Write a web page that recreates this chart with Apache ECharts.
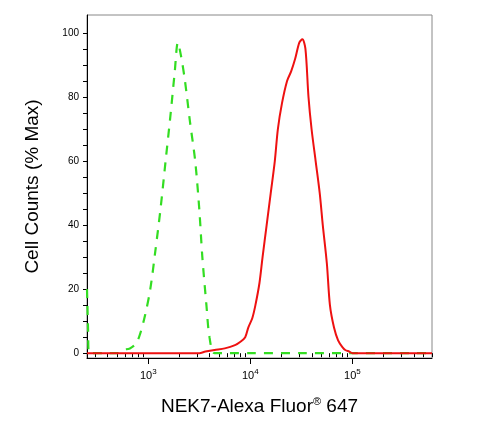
<!DOCTYPE html>
<html><head><meta charset="utf-8">
<script src="https://cdn.jsdelivr.net/npm/echarts@6/dist/echarts.min.js"></script>
<style>html,body{margin:0;padding:0;background:#fff}#c{width:483px;height:426px}</style>
</head><body><div id="c"></div>
<script>
// x values are log10(fluorescence)
const isotypeX = [2.40,2.41,2.42,2.5,2.6,2.7,2.75,2.82,2.88,2.92,2.97,3.02,3.07,3.12,3.17,3.22,3.26,3.29,3.32,3.36,3.41,3.46,3.50,3.53,3.57,3.60,3.65,3.8,4.0,4.5,5.0,5.5,5.78];
const isotypeY = [20,8,0,0,0,0,1,1.5,3,6,12,20,32,45,60,75,88,97,93,85,72,60,45,30,15,5,0,0,0,0,0,0,0];
const nek7X = [2.40,3.0,3.5,3.56,3.65,3.75,3.85,3.90,3.95,3.98,4.02,4.05,4.09,4.12,4.16,4.20,4.24,4.27,4.31,4.36,4.40,4.44,4.48,4.51,4.54,4.57,4.60,4.64,4.68,4.71,4.75,4.78,4.82,4.86,4.90,4.93,4.97,5.0,5.3,5.78];
const nek7Y = [0,0,0,0.5,1,1.5,2.5,3.5,5,8,11,15,22,30,40,50,60,70,78,85,88,92,97,98,95,80,70,60,50,40,28,15,8,4,2,1,0.5,0,0,0];
const majorTicks = [3,4,5];
const minorTicks = [];
[2,3].forEach(e=>{for(let m=2;m<=9;m++){const v=e+Math.log10(m); if(v>=2.40) minorTicks.push(v);}});
[4,5].forEach(e=>{for(let m=2;m<=9;m++){const v=e+Math.log10(m); if(v<=5.78) minorTicks.push(v);}});
const yTicks = [0,20,40,60,80,100];

const chart = echarts.init(document.getElementById('c'));
const zip=(a,b)=>a.map((v,i)=>[v,b[i]]);
chart.setOption({
  animation:false,
  grid:{left:87,right:51,top:15,bottom:68,show:true,borderColor:'#888',borderWidth:1},
  xAxis:[{
    type:'value',min:2.40,max:5.78,
    name:'NEK7-Alexa Fluor{s|®} 647',nameLocation:'middle',nameGap:38,
    nameTextStyle:{fontFamily:'Liberation Sans',fontSize:19,color:'#000',rich:{s:{fontSize:11,verticalAlign:'top',padding:[0,0,10,0]}}},
    axisLine:{onZero:false,lineStyle:{color:'#000'}},
    splitLine:{show:false},
    axisTick:{customValues:majorTicks,length:6,lineStyle:{color:'#000'}},
    axisLabel:{customValues:majorTicks,margin:10,fontFamily:'Liberation Sans',color:'#000',
      formatter:v=>'{b|10}{s|'+Math.round(v)+'}',
      rich:{b:{fontSize:11},s:{fontSize:8,verticalAlign:'top',padding:[0,0,8,0]}}}
  },{
    type:'value',min:2.40,max:5.78,position:'bottom',
    axisLine:{show:false},splitLine:{show:false},axisLabel:{show:false},
    axisTick:{customValues:minorTicks,length:4,lineStyle:{color:'#000'}}
  }],
  yAxis:{
    type:'value',min:-1.5,max:105.6,
    name:'Cell Counts (% Max)',nameLocation:'middle',nameGap:45,
    nameTextStyle:{fontFamily:'Liberation Sans',fontSize:19,color:'#000'},
    axisLine:{show:true,lineStyle:{color:'#000'}},
    splitLine:{show:false},
    axisTick:{customValues:[0,5,10,15,20,25,30,35,40,45,50,55,60,65,70,75,80,85,90,95,100],length:4,lineStyle:{color:'#000'}},
    axisLabel:{customValues:yTicks,fontFamily:'Liberation Sans',fontSize:10,color:'#000',margin:8},
    minorTick:{show:false}
  },
  series:[
    {type:'line',data:zip(isotypeX,isotypeY),showSymbol:false,smooth:0.3,
     lineStyle:{color:'#33dd22',width:2.2,type:[9,8]}},
    {type:'line',data:zip(nek7X,nek7Y),showSymbol:false,smooth:0.3,
     lineStyle:{color:'#ee1111',width:2}}
  ]
});
</script></body></html>
